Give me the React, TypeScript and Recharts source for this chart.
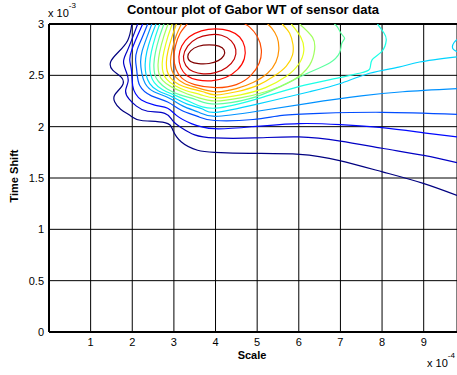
import { LineChart, Line, XAxis, YAxis, CartesianGrid, ReferenceLine } from 'recharts';

type Pt = [number, number];

// Scale in units of 1e-4, Time Shift in units of 1e-3
const xTicks = [1, 2, 3, 4, 5, 6, 7, 8, 9];
const yTicks = [0, 0.5, 1, 1.5, 2, 2.5, 3];

// contour levels, outermost (lowest) first
const level1: Pt[] = [[1.99, 3.0], [1.89, 2.84], [1.65, 2.72], [1.48, 2.63], [1.53, 2.55], [1.74, 2.48], [1.76, 2.40], [1.58, 2.31], [1.58, 2.24], [1.72, 2.17], [1.98, 2.10], [2.22, 2.06], [2.78, 2.04], [2.97, 1.97], [3.18, 1.85], [3.57, 1.77], [3.98, 1.75], [4.82, 1.74], [6.02, 1.73], [6.98, 1.67], [8.01, 1.56], [8.97, 1.45], [9.8, 1.33]];
const level2: Pt[] = [[2.13, 3.0], [2.01, 2.87], [1.87, 2.73], [1.79, 2.63], [1.86, 2.53], [1.90, 2.44], [1.84, 2.35], [1.92, 2.27], [2.10, 2.20], [2.37, 2.15], [2.78, 2.13], [2.97, 2.06], [3.18, 1.99], [3.50, 1.92], [3.98, 1.89], [4.94, 1.89], [6.0, 1.90], [7.0, 1.86], [8.0, 1.79], [9.0, 1.72], [9.8, 1.65]];
const level3: Pt[] = [[2.25, 3.0], [2.12, 2.88], [1.99, 2.75], [1.94, 2.65], [1.98, 2.55], [2.01, 2.40], [2.08, 2.32], [2.22, 2.26], [2.54, 2.21], [2.85, 2.18], [3.06, 2.11], [3.42, 2.03], [3.98, 1.98], [4.9, 2.0], [6.0, 2.03], [7.0, 2.02], [8.0, 1.99], [9.0, 1.94], [9.8, 1.90]];
const level4: Pt[] = [[2.37, 3.0], [2.24, 2.87], [2.12, 2.75], [2.08, 2.65], [2.11, 2.54], [2.18, 2.40], [2.46, 2.30], [2.85, 2.24], [3.18, 2.16], [3.57, 2.10], [3.98, 2.06], [4.9, 2.07], [5.6, 2.11], [6.5, 2.13], [8.0, 2.14], [9.8, 2.12]];
const level5: Pt[] = [[2.47, 3.0], [2.35, 2.87], [2.24, 2.74], [2.20, 2.63], [2.23, 2.52], [2.31, 2.42], [2.52, 2.34], [2.88, 2.28], [3.22, 2.20], [3.6, 2.14], [4.0, 2.10], [5.0, 2.15], [6.26, 2.23], [7.5, 2.30], [8.5, 2.34], [9.8, 2.37]];
const level6: Pt[] = [[2.57, 3.0], [2.45, 2.87], [2.35, 2.73], [2.31, 2.61], [2.33, 2.51], [2.42, 2.42], [2.62, 2.35], [2.96, 2.29], [3.32, 2.22], [3.7, 2.17], [4.0, 2.14], [5.0, 2.22], [6.26, 2.34], [7.0, 2.42], [7.7, 2.52], [8.4, 2.58], [8.9, 2.63], [9.8, 2.68]];
const level6b: Pt[] = [[9.8, 2.85], [9.73, 2.82], [9.69, 2.78], [9.72, 2.75], [9.8, 2.73]];
const level7: Pt[] = [[2.66, 3.0], [2.55, 2.87], [2.46, 2.73], [2.42, 2.61], [2.44, 2.51], [2.53, 2.43], [2.73, 2.36], [3.06, 2.30], [3.45, 2.23], [4.0, 2.18], [5.0, 2.27], [6.0, 2.39], [6.9, 2.47], [7.45, 2.52], [7.70, 2.56], [7.76, 2.65], [7.99, 2.73], [8.1, 2.84], [8.05, 2.91], [7.89, 3.0]];
const level8: Pt[] = [[2.76, 3.0], [2.65, 2.87], [2.56, 2.73], [2.52, 2.61], [2.54, 2.51], [2.63, 2.44], [2.83, 2.37], [3.15, 2.31], [3.55, 2.26], [4.0, 2.22], [4.8, 2.27], [5.5, 2.38], [6.26, 2.53], [6.74, 2.62], [6.98, 2.72], [7.03, 2.81], [7.1, 2.86], [7.03, 2.90], [6.93, 2.97], [6.85, 3.0]];
const level9: Pt[] = [[2.86, 3.0], [2.75, 2.87], [2.66, 2.73], [2.62, 2.61], [2.64, 2.52], [2.73, 2.45], [2.93, 2.39], [3.25, 2.33], [3.6, 2.28], [4.0, 2.25], [4.6, 2.28], [5.2, 2.34], [5.85, 2.45], [6.26, 2.60], [6.38, 2.75], [6.33, 2.87], [6.02, 3.0]];
const level10: Pt[] = [[2.96, 3.0], [2.85, 2.87], [2.76, 2.73], [2.72, 2.62], [2.74, 2.53], [2.83, 2.46], [3.02, 2.40], [3.3, 2.35], [3.65, 2.31], [4.0, 2.28], [4.6, 2.31], [5.2, 2.38], [5.7, 2.49], [6.0, 2.61], [6.12, 2.74], [6.05, 2.87], [5.82, 3.0]];
const level11: Pt[] = [[3.06, 3.0], [2.95, 2.87], [2.86, 2.74], [2.82, 2.63], [2.84, 2.54], [2.93, 2.47], [3.12, 2.41], [3.4, 2.37], [3.7, 2.34], [4.0, 2.31], [4.5, 2.34], [5.0, 2.40], [5.4, 2.49], [5.7, 2.59], [5.85, 2.70], [5.86, 2.80], [5.78, 2.91], [5.6, 3.0]];
const level12: Pt[] = [[3.18, 3.0], [3.05, 2.88], [2.96, 2.75], [2.92, 2.64], [2.95, 2.55], [3.05, 2.48], [3.25, 2.42], [3.55, 2.38], [4.0, 2.34], [4.5, 2.37], [4.9, 2.43], [5.25, 2.52], [5.45, 2.63], [5.52, 2.75], [5.48, 2.87], [5.35, 2.96], [5.25, 3.0]];
const level13: Pt[] = [[3.32, 3.0], [3.15, 2.91], [3.04, 2.79], [3.0, 2.67], [3.05, 2.56], [3.2, 2.47], [3.5, 2.41], [4.0, 2.38], [4.5, 2.41], [4.85, 2.50], [5.05, 2.62], [5.1, 2.75], [5.0, 2.88], [4.82, 2.97], [4.7, 3.0]];
const level14: Pt[] = [[3.10, 2.68], [3.15, 2.57], [3.3, 2.49], [3.55, 2.45], [3.9, 2.44], [4.25, 2.47], [4.55, 2.55], [4.72, 2.66], [4.72, 2.78], [4.6, 2.88], [4.35, 2.94], [4.0, 2.96], [3.65, 2.94], [3.35, 2.88], [3.17, 2.79]];
const level15: Pt[] = [[3.2, 2.68], [3.27, 2.59], [3.45, 2.53], [3.7, 2.51], [4.0, 2.52], [4.28, 2.57], [4.48, 2.66], [4.51, 2.75], [4.4, 2.84], [4.15, 2.9], [3.85, 2.9], [3.55, 2.87], [3.31, 2.79]];
const level16: Pt[] = [[3.31, 2.68], [3.38, 2.63], [3.58, 2.61], [3.85, 2.61], [4.08, 2.64], [4.22, 2.69], [4.23, 2.75], [4.1, 2.79], [3.85, 2.80], [3.58, 2.79], [3.38, 2.74]];

// jet colours, one per level
const levelColors = ['#000080', '#0000c4', '#0008ff', '#004cff', '#0091ff', '#00d4ff', '#1affe6', '#5effa1', '#a1ff5e', '#e6ff1a', '#ffd400', '#ff9100', '#ff4c00', '#ff0800', '#c40000', '#800000'];

const contours: { pts: Pt[]; level: number; closed?: boolean }[] = [
  { pts: level1, level: 0 },
  { pts: level2, level: 1 },
  { pts: level3, level: 2 },
  { pts: level4, level: 3 },
  { pts: level5, level: 4 },
  { pts: level6, level: 5 },
  { pts: level6b, level: 5 },
  { pts: level7, level: 6 },
  { pts: level8, level: 7 },
  { pts: level9, level: 8 },
  { pts: level10, level: 9 },
  { pts: level11, level: 10 },
  { pts: level12, level: 11 },
  { pts: level13, level: 12 },
  { pts: level14, level: 13, closed: true },
  { pts: level15, level: 14, closed: true },
  { pts: level16, level: 15, closed: true },
];

const font = '"Liberation Sans", Arial, Helvetica, sans-serif';

export default function App() {
  return (
    <div style={{ position: 'fixed', left: 0, top: 0, width: 457, height: 375, background: '#fff', fontFamily: font, color: '#000', overflow: 'hidden' }}>
      <LineChart width={457} height={375} margin={{ top: 24, right: 0, bottom: 0, left: 0 }}>
        <CartesianGrid stroke="#000" strokeWidth={1} />
        <XAxis
          type="number"
          dataKey="x"
          domain={[0, 9.8]}
          ticks={xTicks}
          allowDataOverflow
          height={43}
          tickLine={false}
          tickSize={4}
          tickMargin={2}
          axisLine={{ stroke: '#000', strokeWidth: 2 }}
          tick={{ fill: '#000', fontSize: 11, fontFamily: font }}
        />
        <YAxis
          type="number"
          dataKey="y"
          domain={[0, 3]}
          ticks={yTicks}
          allowDataOverflow
          width={49}
          tickLine={false}
          tickSize={3}
          tickMargin={2}
          axisLine={{ stroke: '#000', strokeWidth: 2 }}
          tick={{ fill: '#000', fontSize: 11, fontFamily: font }}
        />
        <ReferenceLine y={3} stroke="#000" strokeWidth={2} />
        {contours.map((c, i) => (
          <Line
            key={i}
            data={c.pts.map(([x, y]) => ({ x, y }))}
            dataKey="y"
            type={c.closed ? 'basisClosed' : 'natural'}
            stroke={levelColors[c.level]}
            strokeWidth={1.2}
            dot={false}
            activeDot={false}
            isAnimationActive={false}
          />
        ))}
      </LineChart>
      <div style={{ position: 'absolute', left: 253, top: 2, transform: 'translateX(-50%)', fontSize: 13, fontWeight: 'bold', whiteSpace: 'nowrap' }}>
        Contour plot of Gabor WT of sensor data
      </div>
      <div style={{ position: 'absolute', left: 48, top: 7, fontSize: 11, whiteSpace: 'nowrap' }}>
        x 10<sup style={{ fontSize: 8, verticalAlign: 'top', position: 'relative', top: -6 }}>-3</sup>
      </div>
      <div style={{ position: 'absolute', left: 427, top: 357, fontSize: 11, whiteSpace: 'nowrap' }}>
        x 10<sup style={{ fontSize: 8, verticalAlign: 'top', position: 'relative', top: -6 }}>-4</sup>
      </div>
      <div style={{ position: 'absolute', left: 252, top: 349, transform: 'translateX(-50%)', fontSize: 11, fontWeight: 'bold' }}>
        Scale
      </div>
      <div style={{ position: 'absolute', left: 14, top: 176, transform: 'translate(-50%, -50%) rotate(-90deg)', fontSize: 11, fontWeight: 'bold', whiteSpace: 'nowrap' }}>
        Time Shift
      </div>
    </div>
  );
}
